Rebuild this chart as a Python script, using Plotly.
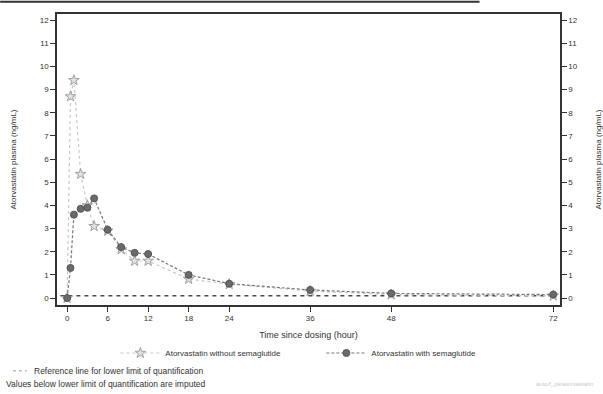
import plotly.graph_objects as go

# ---- data ----
time_with = [0, 0.5, 1, 2, 3, 4, 6, 8, 10, 12, 18, 24, 36, 48, 72]
conc_with = [0.0, 1.3, 3.6, 3.85, 3.9, 4.3, 2.95, 2.2, 1.95, 1.9, 1.0, 0.62, 0.35, 0.2, 0.15]

time_without = [0, 0.5, 1, 2, 3, 4, 6, 8, 10, 12, 18, 24, 36, 48, 72]
conc_without = [0.0, 8.7, 9.4, 5.35, 4.0, 3.1, 2.9, 2.1, 1.6, 1.6, 0.82, 0.6, 0.3, 0.15, 0.1]

lloq_x = [-1, 72]
lloq_y = [0.1, 0.1]

x_ticks = [0, 6, 12, 18, 24, 36, 48, 72]
y_ticks = list(range(0, 13))

FONT = "Liberation Sans"
TXT = "#333333"

fig = go.Figure()

# LLOQ reference line
fig.add_trace(go.Scatter(
    x=lloq_x, y=lloq_y, mode="lines",
    line=dict(color="#4a4a4a", width=1.3, dash="4px,4px"),
    showlegend=False, hoverinfo="skip"))

# without semaglutide
fig.add_trace(go.Scatter(
    x=time_without, y=conc_without, mode="lines+markers",
    name="Atorvastatin without semaglutide",
    line=dict(color="#c8c8c8", width=1.2, dash="dot"),
    marker=dict(symbol="star", size=8, color="#e2e2e2",
                line=dict(color="#a0a0a0", width=1))))

# with semaglutide
fig.add_trace(go.Scatter(
    x=time_with, y=conc_with, mode="lines+markers",
    name="Atorvastatin with semaglutide",
    line=dict(color="#777777", width=1.2, dash="3px,2px"),
    marker=dict(symbol="circle", size=7, color="#6a6a6a",
                line=dict(color="#555555", width=1))))

# invisible trace on secondary y-axis to show right axis
fig.add_trace(go.Scatter(x=[None], y=[None], yaxis="y2", showlegend=False,
                         hoverinfo="skip"))

yr = [-0.30, 12.26]

fig.update_layout(
    width=603, height=394,
    margin=dict(l=57, r=43, t=14, b=89),
    paper_bgcolor="white", plot_bgcolor="white",
    font=dict(family=FONT, size=8, color=TXT),
    xaxis=dict(
        range=[-1.5, 73], tickvals=x_ticks, ticktext=[str(v) for v in x_ticks],
        showgrid=False, zeroline=False, automargin=False,
        showline=True, linecolor="#333333", linewidth=1.5, mirror=True,
        ticks="outside", ticklen=5, tickcolor="#333333",
        tickfont=dict(size=8, color=TXT),
        title=dict(text="Time since dosing (hour)", font=dict(size=9, color=TXT), standoff=9),
    ),
    yaxis=dict(
        range=yr, tickvals=y_ticks, showgrid=False, zeroline=False, automargin=False,
        showline=True, linecolor="#333333", linewidth=1.5,
        ticks="outside", ticklen=5, tickcolor="#333333",
        tickfont=dict(size=8, color=TXT),
        title=dict(text="Atorvastatin plasma (ng/mL)", font=dict(size=8, color=TXT), standoff=22),
    ),
    yaxis2=dict(
        range=yr, tickvals=y_ticks, overlaying="y", side="right",
        showgrid=False, zeroline=False, automargin=False,
        showline=True, linecolor="#333333", linewidth=1.5,
        ticks="outside", ticklen=5, tickcolor="#333333",
        tickfont=dict(size=8, color=TXT),
        title=dict(text="Atorvastatin plasma (ng/mL)", font=dict(size=8, color=TXT), standoff=22),
    ),
    legend=dict(
        orientation="h", x=0.116, xanchor="left", y=-0.165, yanchor="middle",
        font=dict(size=8, color=TXT), itemwidth=40, bgcolor="rgba(0,0,0,0)",
        entrywidth=151, entrywidthmode="pixels",
    ),
    showlegend=True,
)

# footnotes
fig.add_shape(type="line", xref="paper", yref="paper",
              x0=-0.0875, x1=-0.06, y0=-0.226, y1=-0.226,
              line=dict(color="#bbbbbb", width=1.3, dash="3px,3px"))
fig.add_annotation(text="Reference line for lower limit of quantification",
                   xref="paper", yref="paper", x=-0.05, y=-0.226,
                   xanchor="left", yanchor="middle", showarrow=False,
                   font=dict(size=8.5, color=TXT))
fig.add_annotation(text="Values below lower limit of quantification are imputed",
                   xref="paper", yref="paper", x=-0.106, y=-0.27,
                   xanchor="left", yanchor="middle", showarrow=False,
                   font=dict(size=8.5, color=TXT))
fig.add_annotation(text="auto/f_pk/atorvastatin",
                   xref="paper", yref="paper", x=1.07, y=-0.27,
                   xanchor="right", yanchor="middle", showarrow=False,
                   font=dict(size=6, color="#c8c8c8"))

# scan edge line at the very top
fig.add_shape(type="line", xref="paper", yref="paper",
              x0=-0.113, x1=0.84, y0=1.042, y1=1.042,
              line=dict(color="#333333", width=2))

fig.write_html("out.html")
